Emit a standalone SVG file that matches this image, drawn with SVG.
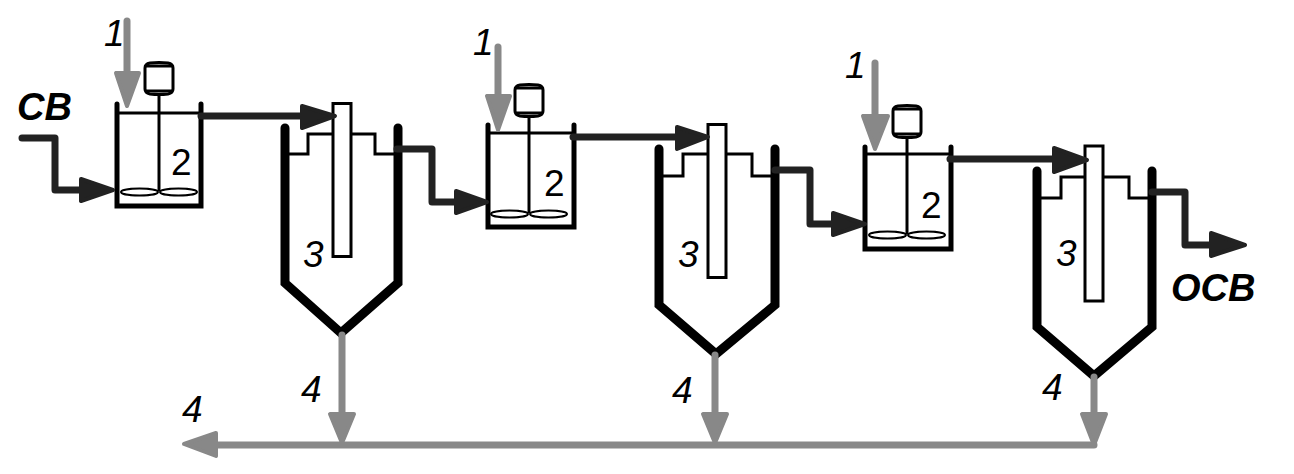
<svg xmlns="http://www.w3.org/2000/svg" width="1294" height="474" viewBox="0 0 1294 474">
<style>
.bg{fill:#fff}
.tank{fill:none;stroke:#000;stroke-width:5;stroke-linecap:round;stroke-linejoin:miter}
.thin{fill:none;stroke:#000;stroke-width:3}
.motor{fill:#fff;stroke:#000;stroke-width:3}
.blade{fill:#fff;stroke:#000;stroke-width:2}
.wall{fill:none;stroke:#000;stroke-width:9;stroke-linecap:round;stroke-linejoin:miter}
.tube{fill:#fff;stroke:#000;stroke-width:3}
.dk{fill:none;stroke:#222;stroke-width:7;stroke-linejoin:round;stroke-linecap:round}
.dkh{fill:#222;stroke:#222;stroke-width:4;stroke-linejoin:round}
.gr{fill:none;stroke:#888;stroke-width:7;stroke-linecap:round}
.grh{fill:#888;stroke:#888;stroke-width:4;stroke-linejoin:round}
text{font-family:"Liberation Sans",Arial,sans-serif;font-size:37px;fill:#000}
.i{font-style:italic}
.b{font-style:italic;font-weight:bold;font-size:38px}
</style>
<rect class="bg" width="1294" height="474"/>
<defs>
<g id="stir">
<path class="thin" d="M0,-98V-1"/>
<ellipse class="blade" cx="-19.500" cy="0" rx="18.500" ry="3.500"/>
<ellipse class="blade" cx="19.500" cy="0" rx="18.500" ry="3.500"/>
<path class="motor" d="M-14,-124Q-14,-128 -9,-129Q0,-130 9,-129Q14,-128 14,-124V-103Q14,-99 9,-98Q0,-97 -9,-98Q-14,-99 -14,-103Z"/>
<path class="thin" d="M-14,-126H14M-13,-101H13"/>
</g>
</defs>
<g id="mixer1">
<path class="tank" d="M117,104V206H201V104"/>
<path class="thin" d="M117,113H201"/>
<use href="#stir" x="159" y="192"/>
<text x="171" y="175">2</text>
</g>
<g id="settler1">
<path class="wall" d="M285,128V283L341,333L398,283V128"/>
<path class="thin" d="M289,154H308V134H333M351,134H375V154H394"/>
<rect class="tube" x="333" y="103.500" width="18" height="153"/>
<text class="i" x="303" y="267">3</text>
</g>
<g id="mixer2">
<path class="tank" d="M488,125V227H574V125"/>
<path class="thin" d="M488,133H574"/>
<use href="#stir" x="529" y="214"/>
<text x="544" y="196">2</text>
</g>
<g id="settler2">
<path class="wall" d="M659,149V305L716,354L775,305V149"/>
<path class="thin" d="M662,176H683V154H708M726,154H752V176H771"/>
<rect class="tube" x="708" y="124.500" width="18" height="153"/>
<text class="i" x="678" y="267">3</text>
</g>
<g id="mixer3">
<path class="tank" d="M865,147V249H951V147"/>
<path class="thin" d="M865,154H951"/>
<use href="#stir" x="907" y="235"/>
<text x="921" y="218">2</text>
</g>
<g id="settler3">
<path class="wall" d="M1037,171V327L1094,376L1152,327V171"/>
<path class="thin" d="M1041,198H1061V177H1085M1103,177H1129V198H1148"/>
<rect class="tube" x="1085" y="146" width="18" height="155"/>
<text class="i" x="1056" y="266">3</text>
</g>
<g id="connectors">
<path class="dk" d="M22,138H55V190H85"/>
<path class="dkh" d="M81,179L113,190L81,201Z"/>
<path class="dk" d="M201,116H305"/>
<path class="dkh" d="M302,106L335,116L302,128Z"/>
<path class="dk" d="M397,149H432V202H458"/>
<path class="dkh" d="M456,191L487,202L456,213Z"/>
<path class="dk" d="M573,137H680"/>
<path class="dkh" d="M677,127L708,137L677,149Z"/>
<path class="dk" d="M775,170H810V224H835"/>
<path class="dkh" d="M833,213L865,224L833,235Z"/>
<path class="dk" d="M950,159H1056"/>
<path class="dkh" d="M1054,148L1087,160L1054,172Z"/>
<path class="dk" d="M1152,192H1185V245H1214"/>
<path class="dkh" d="M1211,233L1245,245L1211,256Z"/>
<path class="gr" d="M127,21V75"/>
<path class="grh" d="M116,73H139L127,106Z"/>
<path class="gr" d="M498,47V98"/>
<path class="grh" d="M487,96H510L498,130Z"/>
<path class="gr" d="M875,63V118"/>
<path class="grh" d="M863,116H888L875,149Z"/>
<path class="gr" d="M342,335V415"/>
<path class="grh" d="M330,414H354L342,443Z"/>
<path class="gr" d="M715,355V415"/>
<path class="grh" d="M703,414H727L715,443Z"/>
<path class="gr" d="M1094,377V415"/>
<path class="grh" d="M1082,414H1106L1094,445Z"/>
<path class="gr" d="M212,445H1094"/>
<path class="grh" d="M216,433L184,444L216,456Z"/>
</g>
<g id="labels">
<text class="b" x="17" y="120">СВ</text>
<text class="b" x="1171" y="301">ОСВ</text>
<text class="i" x="104" y="46">1</text>
<text class="i" x="473" y="55">1</text>
<text class="i" x="845" y="78">1</text>
<text class="i" x="301" y="402">4</text>
<text class="i" x="672" y="403">4</text>
<text class="i" x="1042" y="400">4</text>
<text class="i" x="182" y="422">4</text>
</g>
</svg>
